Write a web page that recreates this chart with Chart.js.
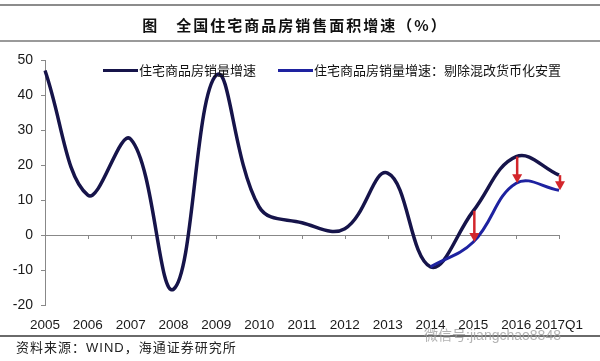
<!DOCTYPE html>
<html>
<head>
<meta charset="utf-8">
<script src="https://cdn.jsdelivr.net/npm/chart.js@4/dist/chart.umd.min.js"></script>
<style>
  html, body { margin:0; padding:0; background:#fff; }
  #wrap { position:relative; width:600px; height:361px; overflow:hidden; background:#fff; }
  #wrap canvas { position:absolute; left:0; top:0; }
  .hline { position:absolute; left:0; width:600px; }
  #title { position:absolute; top:15px; left:0; width:590px; text-align:center;
           font-family:"Noto Sans CJK SC", sans-serif; font-weight:bold; font-size:15px;
           letter-spacing:2px; color:#111; line-height:20px; white-space:nowrap; }
  .leg { position:absolute; top:61px; font-family:"Noto Sans CJK SC", sans-serif; font-size:13px;
         color:#111; line-height:18px; white-space:nowrap; }
  .leg span.sw { display:inline-block; width:35px; height:3px; vertical-align:middle; margin-right:1px; position:relative; top:-1px; }
  #source { position:absolute; left:16px; top:339px; font-family:"Liberation Sans","Noto Sans CJK SC", sans-serif;
            font-size:13px; color:#222; line-height:18px; white-space:nowrap; letter-spacing:1px; }
  #wm { position:absolute; left:424px; top:326px; font-family:"Liberation Sans","Noto Sans CJK SC", sans-serif;
        font-size:14px; color:rgba(160,160,160,0.8); white-space:nowrap; line-height:18px; }
</style>
</head>
<body>
<div id="wrap">
  <canvas id="c" width="600" height="361"></canvas>
  <div class="hline" style="top:4px;height:2px;background:#8c8c8c;"></div>
  <div id="title">图　全国住宅商品房销售面积增速（%）</div>
  <div class="hline" style="top:40px;height:2px;background:#9a9a9a;"></div>
  <div class="leg" style="left:103px;"><span class="sw" style="background:#16144a"></span>住宅商品房销量增速</div>
  <div class="leg" style="left:278px;"><span class="sw" style="background:#1e22a0"></span>住宅商品房销量增速：剔除混改货币化安置</div>
  <div class="hline" style="top:335px;height:2px;background:#6a6a6a;"></div>
  <div id="wm">微信号:jiangchao8848</div>
  <div id="source">资料来源：WIND，海通证券研究所</div>
</div>
<script>
const categories = ['2005','2006','2007','2008','2009','2010','2011','2012','2013','2014','2015','2016','2017Q1'];
const salesGrowth = [47, 11.4, 27.4, -15.5, 45.7, 8.0, 3.5, 1.8, 17.7, -9.1, 6.9, 22.4, 17.1];
const salesGrowthExRelocation = [null, null, null, null, null, null, null, null, null, -9.1, -2.0, 14.8, 12.8];
const arrowAt = ['2015', '2016', '2017Q1'];
const yTicks = [-20, -10, 0, 10, 20, 30, 40, 50];

const axisPlugin = {
  id: 'zeroTicksAndArrows',
  beforeDatasetsDraw(chart) {
    const ctx = chart.ctx, xs = chart.scales.x, ys = chart.scales.y;
    const y0 = ys.getPixelForValue(0);
    ctx.save();
    ctx.strokeStyle = '#888';
    ctx.lineWidth = 1;
    categories.forEach((c, i) => {
      const x = Math.round(xs.getPixelForValue(i)) + 0.5;
      ctx.beginPath();
      ctx.moveTo(x, y0);
      ctx.lineTo(x, y0 + 4);
      ctx.stroke();
    });
    ctx.restore();
  },
  afterDatasetsDraw(chart) {
    const ctx = chart.ctx, xs = chart.scales.x, ys = chart.scales.y;
    ctx.save();
    ctx.strokeStyle = '#d3262b';
    ctx.fillStyle = '#d3262b';
    ctx.lineWidth = 2.5;
    arrowAt.forEach(cat => {
      const i = categories.indexOf(cat);
      const x = xs.getPixelForValue(i) + 1;
      const yA = ys.getPixelForValue(salesGrowth[i]);
      const yB = ys.getPixelForValue(salesGrowthExRelocation[i]);
      const head = 9;
      ctx.beginPath();
      ctx.moveTo(x, yA);
      ctx.lineTo(x, yB - head + 1);
      ctx.stroke();
      ctx.beginPath();
      ctx.moveTo(x - 5, yB - head);
      ctx.lineTo(x + 5, yB - head);
      ctx.lineTo(x, yB);
      ctx.closePath();
      ctx.fill();
    });
    ctx.restore();
  }
};

new Chart(document.getElementById('c'), {
  type: 'line',
  data: {
    labels: categories,
    datasets: [
      {
        label: '住宅商品房销量增速',
        data: salesGrowth,
        borderColor: '#16144a',
        borderWidth: 3.5,
        pointRadius: 0,
        tension: 0.4,
        fill: false,
        order: 1
      },
      {
        label: '住宅商品房销量增速：剔除混改货币化安置',
        data: salesGrowthExRelocation,
        borderColor: '#1e22a0',
        borderWidth: 3,
        pointRadius: 0,
        tension: 0.4,
        fill: false,
        spanGaps: false,
        order: 0
      }
    ]
  },
  options: {
    responsive: false,
    animation: false,
    events: [],
    layout: { padding: { top: 60, left: 0, right: 41, bottom: 0 } },
    plugins: { legend: { display: false }, title: { display: false }, tooltip: { enabled: false } },
    scales: {
      x: {
        type: 'category',
        offset: false,
        grid: { display: false, drawTicks: false },
        border: { display: false },
        ticks: {
          color: '#1a1a1a',
          font: { family: 'Liberation Sans', size: 13.5 },
          padding: 12,
          maxRotation: 0,
          autoSkip: false
        },
        afterFit(scale) { scale.height = 56; }
      },
      y: {
        min: -20,
        max: 50,
        afterBuildTicks(scale) { scale.ticks = yTicks.map(v => ({ value: v })); },
        grid: {
          drawOnChartArea: true,
          drawTicks: true,
          tickLength: 4,
          tickColor: '#888',
          color: ctx => (ctx.tick && ctx.tick.value === 0) ? '#888' : 'rgba(0,0,0,0)',
          lineWidth: 1
        },
        border: { display: true, color: '#888', width: 1 },
        ticks: {
          color: '#1a1a1a',
          font: { family: 'Liberation Sans', size: 14 },
          padding: 8
        },
        afterFit(scale) { scale.width = 45; }
      }
    }
  },
  plugins: [axisPlugin]
});
</script>
</body>
</html>
